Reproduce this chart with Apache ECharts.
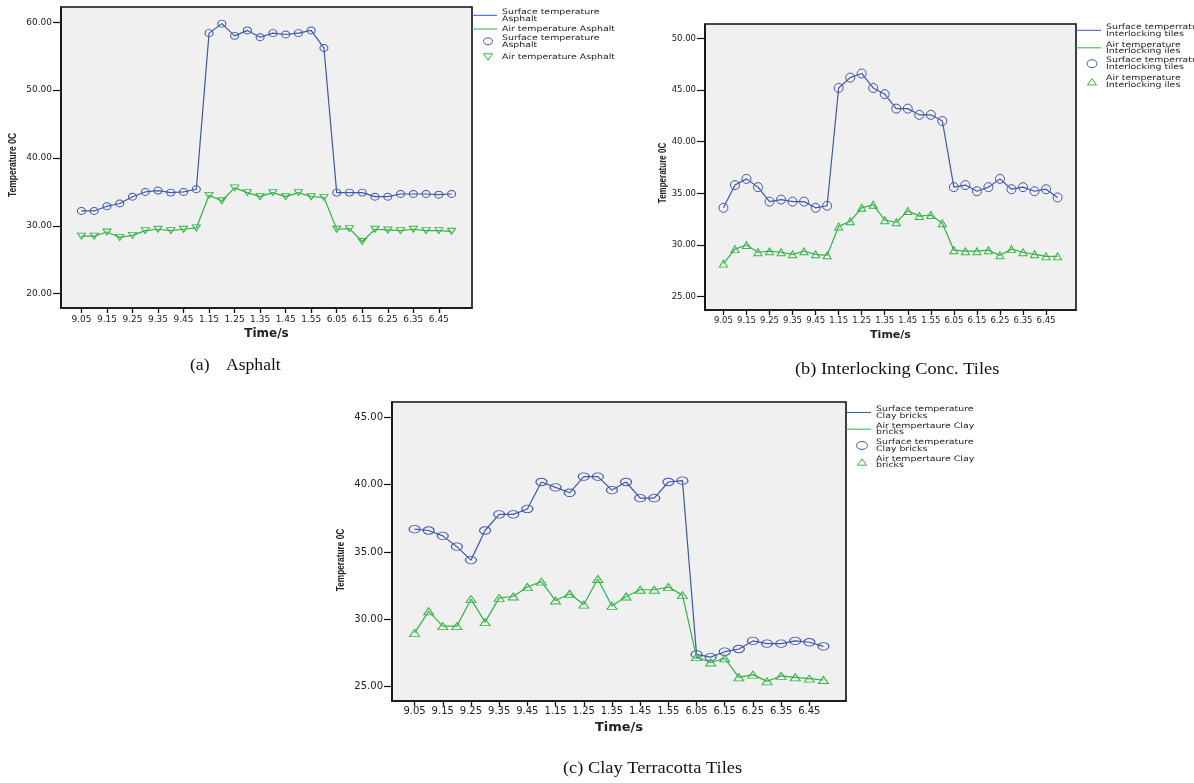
<!DOCTYPE html>
<html>
<head>
<meta charset="utf-8">
<title>Surface and air temperatures of paving materials</title>
<script src="https://cdn.jsdelivr.net/npm/echarts@6/dist/echarts.min.js"></script>
<style>
  html, body { margin: 0; padding: 0; background: #ffffff; }
  #chart { width: 1194px; height: 783px; }
</style>
</head>
<body>
<div id="chart"></div>
<script>
// Sampling times (every other one is labelled on the x axis)
const times = ['9.05','9.10','9.15','9.20','9.25','9.30','9.35','9.40','9.45','9.50',
               '1.15','1.20','1.25','1.30','1.35','1.40','1.45','1.50','1.55','2.00',
               '6.05','6.10','6.15','6.20','6.25','6.30','6.35','6.40','6.45','6.50'];

// (a) Asphalt
const asphaltSurface = [32.2, 32.2, 32.9, 33.3, 34.3, 35.0, 35.2, 34.9, 35.0, 35.4,
                        58.4, 59.8, 58.0, 58.8, 57.8, 58.4, 58.2, 58.4, 58.8, 56.2,
                        34.9, 34.9, 34.9, 34.3, 34.3, 34.7, 34.7, 34.7, 34.6, 34.7];
const asphaltAir     = [28.5, 28.5, 29.1, 28.3, 28.6, 29.3, 29.5, 29.3, 29.5, 29.7,
                        34.5, 33.7, 35.6, 34.9, 34.3, 34.9, 34.3, 34.9, 34.3, 34.2,
                        29.5, 29.6, 27.7, 29.5, 29.4, 29.3, 29.5, 29.3, 29.3, 29.2];
const asphaltTicks   = [20, 30, 40, 50, 60];

// (b) Interlocking concrete tiles
const tilesSurface = [33.6, 35.8, 36.4, 35.6, 34.2, 34.4, 34.2, 34.2, 33.6, 33.8,
                      45.2, 46.2, 46.6, 45.2, 44.6, 43.2, 43.2, 42.6, 42.6, 42.0,
                      35.6, 35.8, 35.2, 35.6, 36.4, 35.4, 35.6, 35.2, 35.4, 34.6];
const tilesAir     = [28.2, 29.6, 30.0, 29.3, 29.4, 29.3, 29.1, 29.4, 29.1, 29.0,
                      31.8, 32.3, 33.6, 33.9, 32.4, 32.2, 33.3, 32.8, 32.9, 32.1,
                      29.5, 29.4, 29.4, 29.5, 29.0, 29.6, 29.3, 29.1, 28.9, 28.9];
const tilesTicks   = [25, 30, 35, 40, 45, 50];

// (c) Clay terracotta tiles
const claySurface = [36.7, 36.6, 36.2, 35.4, 34.4, 36.6, 37.8, 37.8, 38.2, 40.2,
                     39.8, 39.4, 40.6, 40.6, 39.6, 40.2, 39.0, 39.0, 40.2, 40.3,
                     27.4, 27.2, 27.6, 27.8, 28.4, 28.2, 28.2, 28.4, 28.3, 28.0];
const clayAir     = [29.0, 30.6, 29.5, 29.5, 31.5, 29.8, 31.6, 31.7, 32.4, 32.8,
                     31.4, 31.9, 31.1, 33.0, 31.0, 31.7, 32.2, 32.2, 32.4, 31.8,
                     27.2, 26.8, 27.1, 25.7, 25.9, 25.4, 25.8, 25.7, 25.6, 25.5];
const clayTicks   = [25, 30, 35, 40, 45];

const BLUE = '#3e58ac';
const GREEN = '#34b444';
const TEXT = '#222222';
const FRAME = '#111111';
const SANS = '"DejaVu Sans", Verdana, sans-serif';
const BOLD_SANS = '"Liberation Sans", Arial, sans-serif';
const SERIF = '"Liberation Serif", "Times New Roman", serif';

const labelledIdx = times.map((t, i) => i).filter(i => i % 2 === 0);

// Panel layout and styling
const panels = [
  { grid: { left: 61, top: 7, width: 411, height: 301 }, yMin: 17.9, yMax: 62.25,
    ticks: asphaltTicks, surface: asphaltSurface, air: asphaltAir,
    circle: [8, 7], tri: [8, 6], triRotate: 180, labelSize: 9, timeSize: 12, xMargin: 7,
    yTitle: { x: 13, y: 165, size: 8.5 } },
  { grid: { left: 705, top: 24, width: 371, height: 286 }, yMin: 23.71, yMax: 51.39,
    ticks: tilesTicks, surface: tilesSurface, air: tilesAir,
    circle: [9, 9], tri: [8, 7], triRotate: 0, labelSize: 8.5, timeSize: 11, xMargin: 6,
    yTitle: { x: 663, y: 173, size: 8 } },
  { grid: { left: 392, top: 402, width: 454, height: 299 }, yMin: 23.94, yMax: 46.14,
    ticks: clayTicks, surface: claySurface, air: clayAir,
    circle: [11, 7.5], tri: [10, 7], triRotate: 0, labelSize: 10, timeSize: 13, xMargin: 5,
    yTitle: { x: 341, y: 560, size: 8.3 } }
];

const grids = [], xAxes = [], yAxes = [], series = [], titles = [];
panels.forEach((p, k) => {
  grids.push(Object.assign({
    show: true, backgroundColor: '#f0f0f0', borderColor: FRAME, borderWidth: 1.6
  }, p.grid));
  xAxes.push({
    gridIndex: k, type: 'value', min: -1.6, max: 30.6,
    name: 'Time/s', nameLocation: 'middle', nameGap: 20,
    nameTextStyle: { fontFamily: SANS, fontWeight: 'bold', fontSize: p.timeSize, color: TEXT },
    axisLine: { show: true, onZero: false, lineStyle: { color: FRAME, width: 1.6 } },
    axisTick: { show: true, customValues: labelledIdx, length: 5, lineStyle: { color: FRAME, width: 1.3 } },
    axisLabel: { customValues: labelledIdx, formatter: v => times[v], margin: p.xMargin,
                 fontFamily: SANS, fontSize: p.labelSize, color: TEXT },
    splitLine: { show: false }
  });
  yAxes.push({
    gridIndex: k, type: 'value', min: p.yMin, max: p.yMax,
    axisLine: { show: true, onZero: false, lineStyle: { color: FRAME, width: 1.6 } },
    axisTick: { show: true, customValues: p.ticks, length: 8, lineStyle: { color: FRAME, width: 1.2 } },
    axisLabel: { customValues: p.ticks, formatter: v => v.toFixed(2), margin: 9,
                 fontFamily: SANS, fontSize: p.labelSize, color: TEXT },
    splitLine: { show: false }
  });
  // Condensed vertical axis title
  titles.push({
    type: 'text', x: p.yTitle.x, y: p.yTitle.y, rotation: Math.PI / 2, scaleY: 1.3,
    style: { text: 'Temperature 0C', fontFamily: BOLD_SANS, fontWeight: 'bold',
             fontSize: p.yTitle.size, fill: TEXT, align: 'center', verticalAlign: 'middle' }
  });
  const toPoints = arr => arr.map((v, i) => [i, v]);
  series.push({
    type: 'line', xAxisIndex: k, yAxisIndex: k, data: toPoints(p.surface),
    symbol: 'circle', symbolSize: p.circle, showAllSymbol: true,
    lineStyle: { color: BLUE, width: 1.2 },
    itemStyle: { color: 'rgba(0,0,0,0)', borderColor: BLUE, borderWidth: 1 },
    emphasis: { disabled: true }, z: 3
  });
  series.push({
    type: 'line', xAxisIndex: k, yAxisIndex: k, data: toPoints(p.air),
    symbol: 'triangle', symbolSize: p.tri, symbolRotate: p.triRotate, showAllSymbol: true,
    lineStyle: { color: GREEN, width: 1.2 },
    itemStyle: { color: 'rgba(0,0,0,0)', borderColor: GREEN, borderWidth: 1 },
    emphasis: { disabled: true }, z: 3
  });
});

// Legend blocks: line entries first, then marker entries
function legendText(x, y, text, scaleX) {
  return { type: 'text', x: x, y: y, scaleX: scaleX,
           style: { text: text, fontFamily: SANS, fontSize: 7.5, lineHeight: 6.5,
                    fill: TEXT, verticalAlign: 'middle', align: 'left' } };
}
function legendBlock(x0, rows, labels, markerDown, circ) {
  const els = [];
  const tx = x0 + 30, mx = x0 + 16;
  els.push({ type: 'line', shape: { x1: x0, y1: rows[0], x2: x0 + 25, y2: rows[0] },
             style: { stroke: BLUE, lineWidth: 1 } });
  els.push({ type: 'line', shape: { x1: x0, y1: rows[1], x2: x0 + 25, y2: rows[1] },
             style: { stroke: GREEN, lineWidth: 1 } });
  els.push({ type: 'ellipse', shape: { cx: mx, cy: rows[2], rx: circ[0] / 2, ry: circ[1] / 2 },
             style: { fill: 'none', stroke: BLUE, lineWidth: 1 } });
  const h = 3.2, w = 4.5, cy = rows[3];
  const pts = markerDown
    ? [[mx - w, cy - h], [mx + w, cy - h], [mx, cy + h]]
    : [[mx - w, cy + h], [mx + w, cy + h], [mx, cy - h]];
  els.push({ type: 'polygon', shape: { points: pts }, style: { fill: 'none', stroke: GREEN, lineWidth: 1 } });
  labels.forEach((t, i) => els.push(legendText(tx, rows[i], t, 1.25)));
  return els;
}

const graphics = [].concat(
  titles,
  legendBlock(472, [15.3, 29, 41.3, 57],
    ['Surface temperature\nAsphalt', 'Air temperature Asphalt',
     'Surface temperature\nAsphalt', 'Air temperature Asphalt'], true, [9, 7]),
  legendBlock(1076, [30.3, 47.8, 63.7, 81.7],
    ['Surface temperrature\nInterlocking tiles', 'Air temperature\nInterlocking iles',
     'Surface temperrature\nInterlocking tiles', 'Air temperature\nInterlocking iles'], false, [10, 8]),
  legendBlock(846, [412.5, 429.2, 445.5, 462],
    ['Surface temperature\nClay bricks', 'Air tempertaure Clay\nbricks',
     'Surface temperature\nClay bricks', 'Air tempertaure Clay\nbricks'], false, [11, 8]),
  [
    { type: 'text', x: 190, y: 366, scaleX: 1.1,
      style: { text: '(a)', fontFamily: SERIF, fontSize: 16, fill: '#111', verticalAlign: 'middle' } },
    { type: 'text', x: 226, y: 366, scaleX: 1.1,
      style: { text: 'Asphalt', fontFamily: SERIF, fontSize: 16, fill: '#111', verticalAlign: 'middle' } },
    { type: 'text', x: 795, y: 370, scaleX: 1.08,
      style: { text: '(b) Interlocking Conc. Tiles', fontFamily: SERIF, fontSize: 17, fill: '#111', verticalAlign: 'middle' } },
    { type: 'text', x: 563, y: 769, scaleX: 1.08,
      style: { text: '(c) Clay Terracotta Tiles', fontFamily: SERIF, fontSize: 17, fill: '#111', verticalAlign: 'middle' } }
  ]
);

const chart = echarts.init(document.getElementById('chart'), null, { renderer: 'canvas' });
chart.setOption({
  backgroundColor: '#ffffff',
  animation: false,
  grid: grids,
  xAxis: xAxes,
  yAxis: yAxes,
  series: series,
  graphic: graphics
});
</script>
</body>
</html>
